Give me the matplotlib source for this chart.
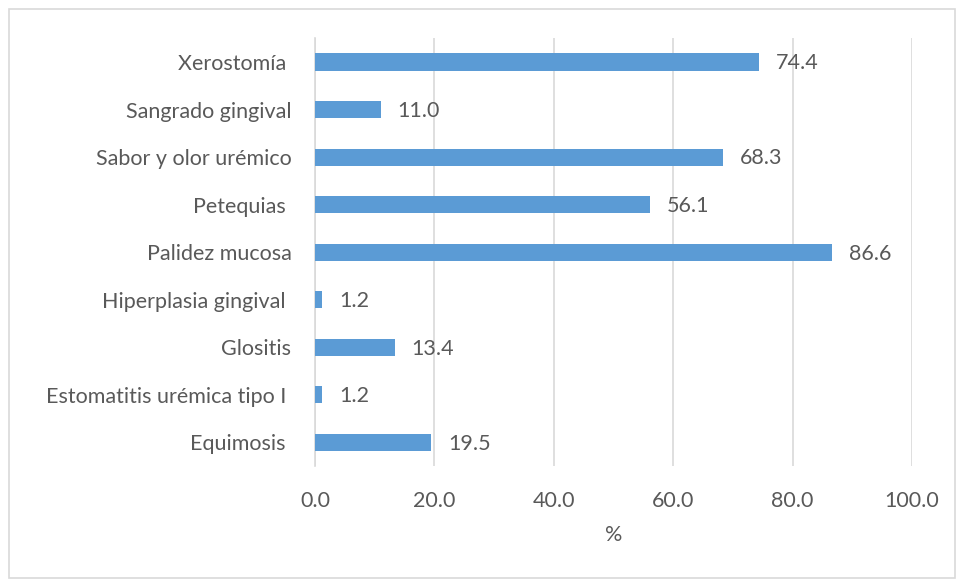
import matplotlib
matplotlib.use('Agg')
import matplotlib.pyplot as plt
from matplotlib.patches import Rectangle

# datos
categorias = ['Xerostomía ', 'Sangrado gingival', 'Sabor y olor urémico', 'Petequias ',
              'Palidez mucosa', 'Hiperplasia gingival ', 'Glositis',
              'Estomatitis urémica tipo I ', 'Equimosis ']
porcentajes = [74.4, 11.0, 68.3, 56.1, 86.6, 1.2, 13.4, 1.2, 19.5]
xticks = [0, 20, 40, 60, 80, 100]

plt.rcParams['font.family'] = ['Lato', 'DejaVu Sans']
gris = '#595959'
fs = 15.5

fig = plt.figure(figsize=(9.56, 5.79), dpi=100)
ax = fig.add_axes([0.3295, 0.195, 0.6245, 0.739])

pos = list(range(len(categorias)))
ax.barh(pos, porcentajes, height=0.36, color='#5B9BD5', zorder=3)
for p, v in zip(pos, porcentajes):
    ax.annotate(f'{v:.1f}', (v, p), xytext=(12, -1), textcoords='offset points',
                va='center', ha='left', fontsize=fs, color=gris)

ax.set_yticks(pos)
ax.set_yticklabels(categorias, fontsize=fs, color=gris)
ax.set_ylim(len(categorias) - 0.5, -0.5)
ax.set_xlim(0, 100)
ax.set_xticks(xticks)
ax.set_xticklabels([f'{t:.1f}' for t in xticks], fontsize=fs, color=gris)
ax.set_xlabel('%', fontsize=fs, color=gris, labelpad=10)
ax.tick_params(length=0)
ax.tick_params(axis='y', pad=17)
ax.tick_params(axis='x', pad=18)
ax.grid(axis='x', color='#d9d9d9', linewidth=1.2, zorder=0)
for s in ['top', 'right', 'bottom']:
    ax.spines[s].set_visible(False)
ax.spines['left'].set_color('#d9d9d9')
ax.spines['left'].set_linewidth(1.2)

fig.patches.append(Rectangle((9 / 956, 1 / 579), 946 / 956, 569 / 579,
                             transform=fig.transFigure, fill=False,
                             edgecolor='#d9d9d9', linewidth=1.2))

fig.savefig('out.png', dpi=100)
